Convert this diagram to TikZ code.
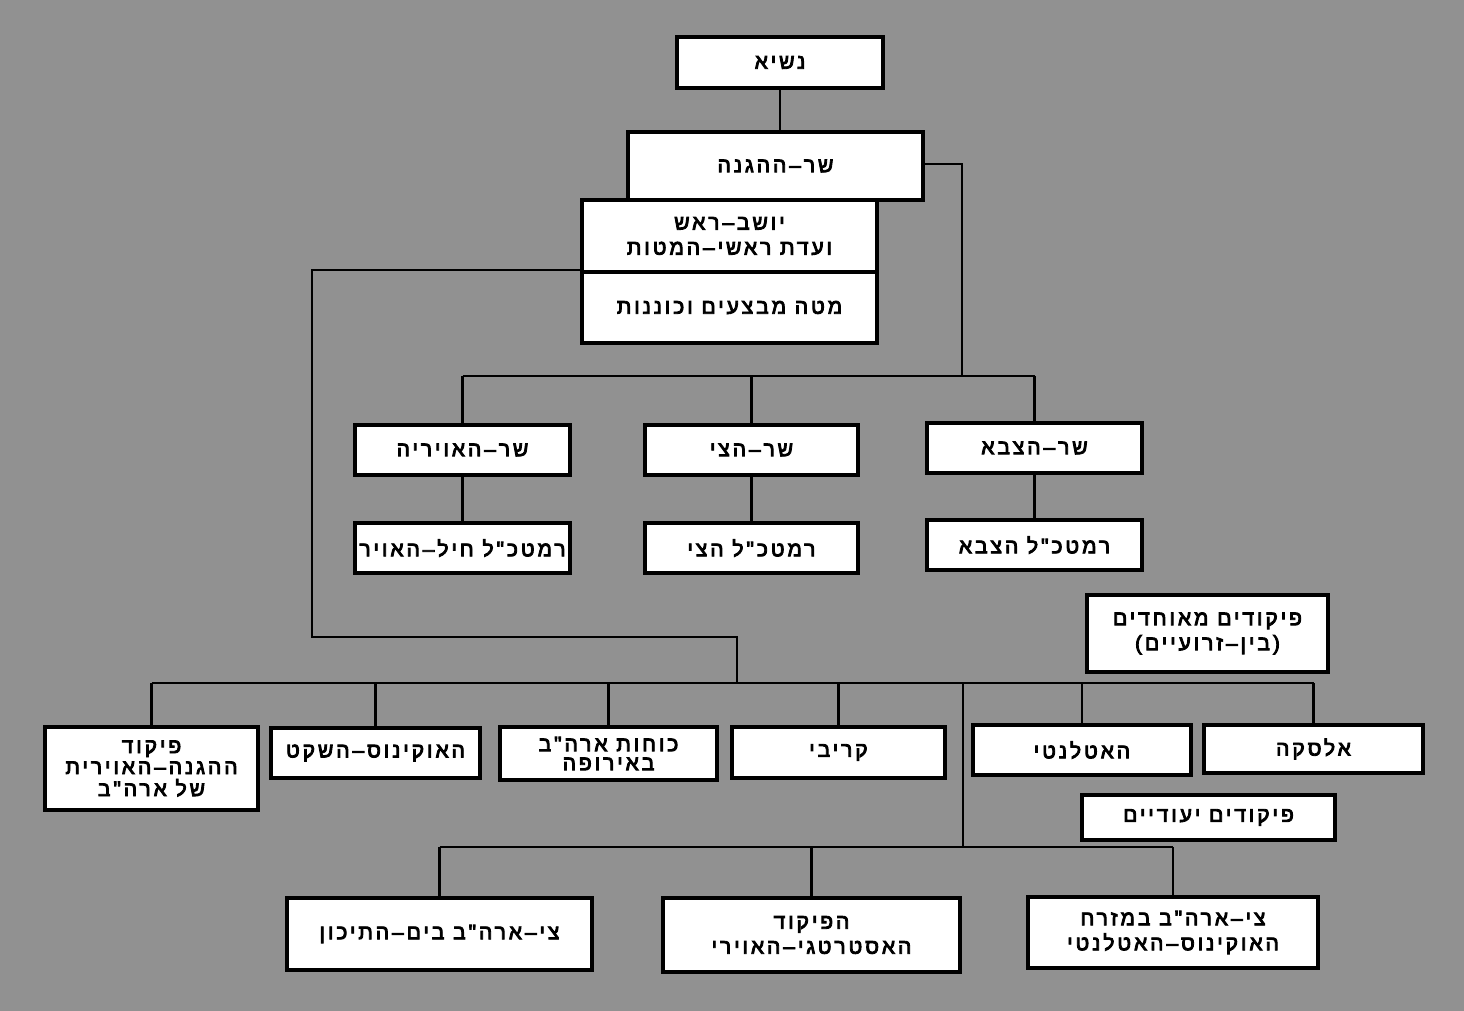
\documentclass[tikz,border=0pt]{standalone}
\usepackage{fontspec}
\newfontfamily\heb[Script=Hebrew,LetterSpace=14,FakeBold=4]{Liberation Sans}
\TeXXeTstate=1
\newcommand{\hl}[1]{\beginR#1\endR}
\definecolor{bgpaper}{RGB}{145,145,145}
\tikzset{
  box/.style={draw=black,line width=3.5pt,fill=white,inner sep=0pt,align=center,
    font=\heb\fontsize{21}{25}\selectfont},
  conn/.style={draw=black,line width=2.4pt}
}
\newcommand{\mybox}[6]{\node[box,minimum width={(#4)-(#2)},minimum height={(#5)-(#3)}] (#1) at ({((#2)+(#4))/2},{((#3)+(#5))/2}) {#6};}
\begin{document}
\begin{tikzpicture}[x=1pt,y=-1pt]
\useasboundingbox (0,0) rectangle (1464,1011);
\fill[bgpaper] (0,0) rectangle (1464,1011);

% junction coordinates
\coordinate (tb) at (962,376);
\coordinate (lk) at (312,637);
\coordinate (mk) at (737,637);
\coordinate (bb) at (737,683);
\coordinate (ub) at (963,683);
\coordinate (sb) at (963,847);

\mybox{nasi}{677}{37}{883}{88}{\hl{נשיא}}
\mybox{hagana}{628}{132}{923}{200}{\hl{שר–ההגנה}}
\mybox{jcs}{582}{200}{877}{272}{\hl{יושב–ראש}\\\hl{ועדת ראשי–המטות}}
\mybox{ops}{582}{272}{877}{343}{\hl{מטה מבצעים וכוננות}}
\mybox{air}{355}{425}{570}{475}{\hl{שר–האויריה}}
\mybox{navy}{645}{425}{858}{475}{\hl{שר–הצי}}
\mybox{army}{927}{423}{1142}{473}{\hl{שר–הצבא}}
\mybox{airc}{355}{523}{570}{573}{\hl{רמטכ"ל חיל–האויר}}
\mybox{navyc}{645}{523}{858}{573}{\hl{רמטכ"ל הצי}}
\mybox{armyc}{927}{520}{1142}{570}{\hl{רמטכ"ל הצבא}}
\mybox{unified}{1087}{595}{1328}{672}{\hl{פיקודים מאוחדים}\\\hl{(בין–זרועיים)}}
\mybox{pik}{45}{727}{258}{810}{\hl{פיקוד}\\[-4pt]\hl{ההגנה–האוירית}\\[-3pt]\hl{של ארה"ב}}
\mybox{pac}{271}{728}{480}{778}{\hl{האוקינוס–השקט}}
\mybox{eur}{500}{727}{717}{780}{\hl{כוחות ארה"ב}\\[-6pt]\hl{באירופה}}
\mybox{car}{732}{727}{945}{778}{\hl{קריבי}}
\mybox{atl}{973}{725}{1191}{775}{\hl{האטלנטי}}
\mybox{ala}{1204}{725}{1423}{773}{\hl{אלסקה}}
\mybox{spec}{1082}{795}{1335}{840}{\hl{פיקודים יעודיים}}
\mybox{med}{287}{898}{592}{970}{\hl{צי–ארה"ב בים–התיכון}}
\mybox{sac}{663}{898}{960}{972}{\hl{הפיקוד}\\\hl{האסטרטגי–האוירי}}
\mybox{east}{1028}{897}{1318}{968}{\hl{צי–ארה"ב במזרח}\\\hl{האוקינוס–האטלנטי}}

% connectors
\draw[conn] (nasi.south) -- (nasi.south |- hagana.north);
\draw[conn] ([yshift=2pt]hagana.east) -| (tb);
\draw[conn] (air.north |- tb) -- (army.north |- tb);
\foreach \n in {air,navy,army} \draw[conn] (\n.north |- tb) -- (\n.north);
\draw[conn] (air.south) -- (airc.north);
\draw[conn] (navy.south) -- (navyc.north);
\draw[conn] (army.south) -- (armyc.north);
\draw[conn] ([yshift=4pt]jcs.south west) -| (lk) -- (mk) -- (bb);
\draw[conn] (pik.north |- bb) -- (ala.north |- bb);
\foreach \n in {pik,pac,eur,car,atl,ala} \draw[conn] (\n.north |- bb) -- (\n.north);
\draw[conn] (ub) -- (sb);
\draw[conn] (med.north |- sb) -- (east.north |- sb);
\foreach \n in {med,sac,east} \draw[conn] (\n.north |- sb) -- (\n.north);
\end{tikzpicture}
\end{document}
